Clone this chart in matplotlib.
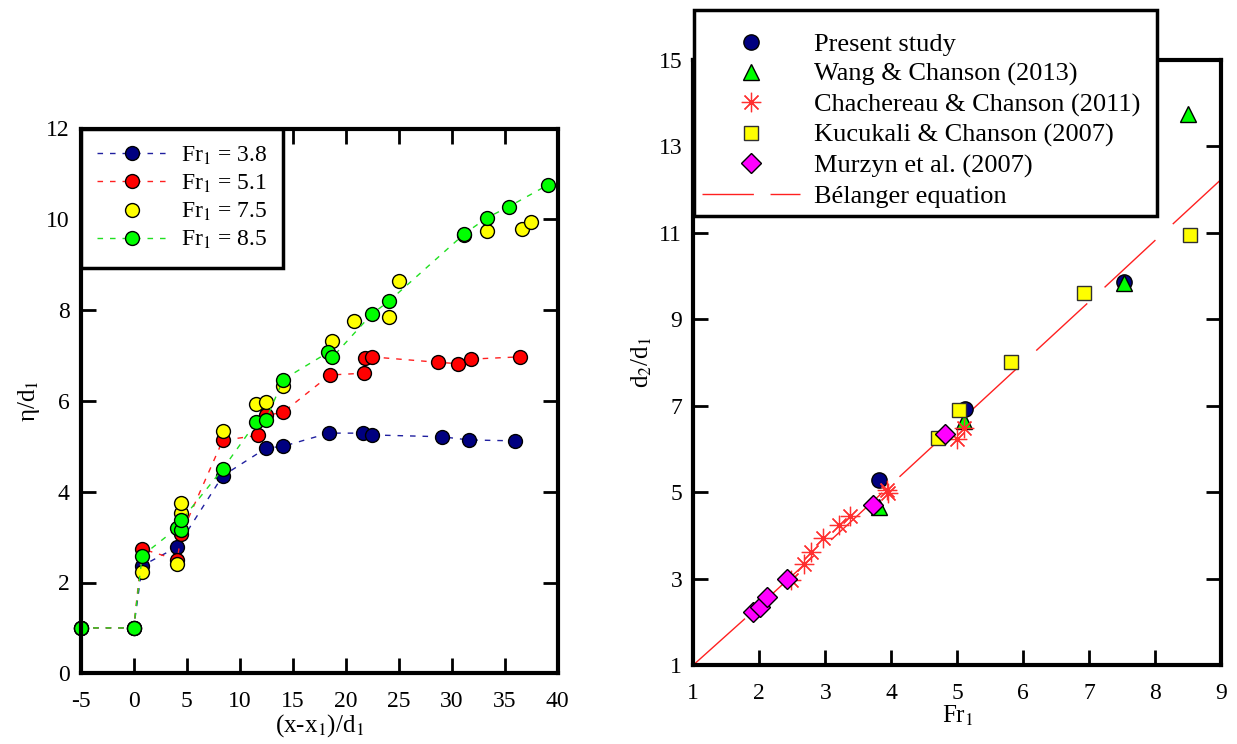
import numpy as np
import matplotlib
matplotlib.use("Agg")
import matplotlib.pyplot as plt
from matplotlib.lines import Line2D

plt.rcParams['font.family'] = ['Liberation Serif', 'DejaVu Serif']
plt.rcParams['mathtext.fontset'] = 'stix'
plt.rcParams['axes.unicode_minus'] = False

# ---- left panel: eta/d1 vs (x-x1)/d1 ----
x_38 = [-5, 0, 0.8, 4.1, 8.4, 12.5, 14.1, 18.4, 21.6, 22.5, 29.1, 31.6, 36.0]
y_38 = [1, 1, 2.37, 2.78, 4.35, 4.96, 5.0, 5.29, 5.29, 5.25, 5.21, 5.14, 5.12]

x_51 = [-5, 0, 0.8, 4.1, 4.5, 8.4, 11.7, 12.5, 14.1, 18.5, 21.7, 21.8, 22.45, 28.7, 30.6, 31.8, 36.4]
y_51 = [1, 1, 2.74, 2.5, 3.07, 5.13, 5.24, 5.68, 5.75, 6.57, 6.61, 6.95, 6.97, 6.85, 6.82, 6.92, 6.97]

x_75 = [-5, 0, 0.8, 4.1, 4.5, 4.5, 8.4, 11.55, 12.5, 14.1, 18.7, 20.8, 24.1, 25.0, 31.2, 33.3, 36.6, 37.45]
y_75 = [1, 1, 2.23, 2.40, 3.53, 3.76, 5.33, 5.94, 5.97, 6.32, 7.32, 7.76, 7.85, 8.63, 9.65, 9.75, 9.78, 9.95]

x_85 = [-5, 0, 0.8, 4.1, 4.5, 4.5, 8.4, 11.55, 12.5, 14.1, 18.36, 18.74, 22.45, 24.1, 31.2, 33.3, 35.4, 39.1]
y_85 = [1, 1, 2.59, 3.2, 3.16, 3.37, 4.5, 5.53, 5.59, 6.47, 7.07, 6.96, 7.91, 8.2, 9.68, 10.03, 10.28, 10.76]

# ---- right panel: d2/d1 vs Fr1 ----
present_fr = [3.81, 5.12, 7.52]
present_d = [5.27, 6.93, 9.87]
wang_fr = [3.82, 5.10, 7.52, 8.5]
wang_d = [4.66, 6.65, 9.84, 13.75]
chach_fr = [2.48, 2.68, 2.79, 2.96, 3.20, 3.38, 3.93, 3.95, 4.99, 5.10]
chach_d = [2.97, 3.34, 3.61, 3.94, 4.23, 4.44, 5.06, 4.98, 6.22, 6.49]
kucu_fr = [4.71, 5.02, 5.81, 6.92, 8.53]
kucu_d = [6.26, 6.89, 8.02, 9.60, 10.94]
murz_fr = [1.90, 2.01, 2.11, 2.42, 3.72, 4.81]
murz_d = [2.22, 2.35, 2.57, 2.99, 4.71, 6.35]
bel_fr = [1, 2, 3, 4, 5, 6, 7, 8, 9]
bel_d = [1.0, 2.37, 3.77, 5.18, 6.59, 8.0, 9.41, 10.83, 12.24]

W, H = 1237, 744
fig = plt.figure(figsize=(W / 100, H / 100), dpi=100)

ax1 = fig.add_axes([80.7 / W, 1 - 673.3 / H, (557.7 - 80.7) / W, (673.3 - 128.5) / H])
ax2 = fig.add_axes([693.3 / W, 1 - 665 / H, (1221.3 - 693.3) / W, (665 - 60) / H])

for ax in (ax1, ax2):
    for s in ax.spines.values():
        s.set_linewidth(3)
    ax.tick_params(direction='in', length=11, width=2, top=True, right=True,
                   labelsize=17)
    ax.tick_params(axis='x', pad=13)
    ax.tick_params(axis='y', pad=8)

series = [
    (x_38, y_38, '#000080', '#2020a0', '--', 'Fr$_1$ = 3.8'),
    (x_51, y_51, '#ff0000', '#ff2020', '--', 'Fr$_1$ = 5.1'),
    (x_75, y_75, '#ffff00', '#ffff00', 'none', 'Fr$_1$ = 7.5'),
    (x_85, y_85, '#00ff00', '#20e020', '--', 'Fr$_1$ = 8.5'),
]
for xs, ys, fc, lc, ls, lab in series:
    line, = ax1.plot(xs, ys, linestyle=ls, color=lc, lw=1, marker='o', ms=10,
                     mfc=fc, mec='black', mew=1, label=lab, clip_on=False)
    if ls != 'none':
        line.set_dashes((4, 5))

ax1.set_xlim(-5, 40)
ax1.set_ylim(0, 12)
ax1.set_xticks(np.arange(-5, 41, 5))
ax1.set_yticks(np.arange(0, 13, 2))
ax1.set_xlabel('(x-x$_1$)/d$_1$', fontsize=18, labelpad=0)
ax1.set_ylabel('η/d$_1$', fontsize=18, labelpad=3)

leg1 = ax1.legend(loc='upper left', bbox_to_anchor=(0, 1), borderaxespad=0,
                  fontsize=17, handlelength=2.95, handletextpad=0.6,
                  labelspacing=0.25, borderpad=0.68, fancybox=False,
                  framealpha=1, edgecolor='black', numpoints=1)
leg1.get_frame().set_linewidth(2.5)

# right panel
bel, = ax2.plot(bel_fr, bel_d, color='#ff2020', lw=1, zorder=1)
bel.set_dashes((50, 17))
ax2.plot(present_fr, present_d, 'o', ms=11, mfc='#000080', mec='black', mew=1, zorder=2)
ax2.plot(wang_fr, wang_d, '^', ms=11, mfc='#00ff00', mec='black', mew=1, zorder=3)
ax2.plot(chach_fr, chach_d, linestyle='none', marker=(8, 2, 0), ms=14, mec='#ff3030',
         mew=0.9, zorder=4)
ax2.plot(kucu_fr, kucu_d, 's', ms=10.5, mfc='#ffff00', mec='#303030', mew=1, zorder=5)
ax2.plot(murz_fr, murz_d, 'D', ms=10, mfc='#ff00ff', mec='black', mew=1, zorder=6)

ax2.set_xlim(1, 9)
ax2.set_ylim(1, 15)
ax2.set_xticks(np.arange(1, 10, 1))
ax2.set_yticks(np.arange(1, 16, 2))
ax2.set_xlabel('Fr$_1$', fontsize=18, labelpad=0)
ax2.set_ylabel('d$_2$/d$_1$', fontsize=18, labelpad=3)

handles = [
    Line2D([], [], linestyle='none', marker='o', ms=11, mfc='#000080', mec='black'),
    Line2D([], [], linestyle='none', marker='^', ms=11, mfc='#00ff00', mec='black'),
    Line2D([], [], linestyle='none', marker=(8, 2, 0), ms=14, mec='#ff3030', mew=0.9),
    Line2D([], [], linestyle='none', marker='s', ms=10.5, mfc='#ffff00', mec='#303030'),
    Line2D([], [], linestyle='none', marker='D', ms=10, mfc='#ff00ff', mec='black'),
    Line2D([], [], color='#ff2020', lw=1, dashes=(37, 12)),
]
labels = ['Present study', 'Wang & Chanson (2013)', 'Chachereau & Chanson (2011)',
          'Kucukali & Chanson (2007)', 'Murzyn et al. (2007)', 'Bélanger equation']
leg2 = fig.legend(handles, labels, loc='upper left',
                  bbox_to_anchor=(693.6 / W, 1 - 10 / H, (1157 - 693.6) / W, 0),
                  mode='expand', borderaxespad=0, fontsize=19, handlelength=3.75,
                  handletextpad=0.5, labelspacing=0.25, borderpad=0.3,
                  fancybox=False, framealpha=1, edgecolor='black', numpoints=1,
                  title=' ', title_fontsize=6)
leg2.get_frame().set_linewidth(2.5)

fig.savefig('out.png', dpi=100)
